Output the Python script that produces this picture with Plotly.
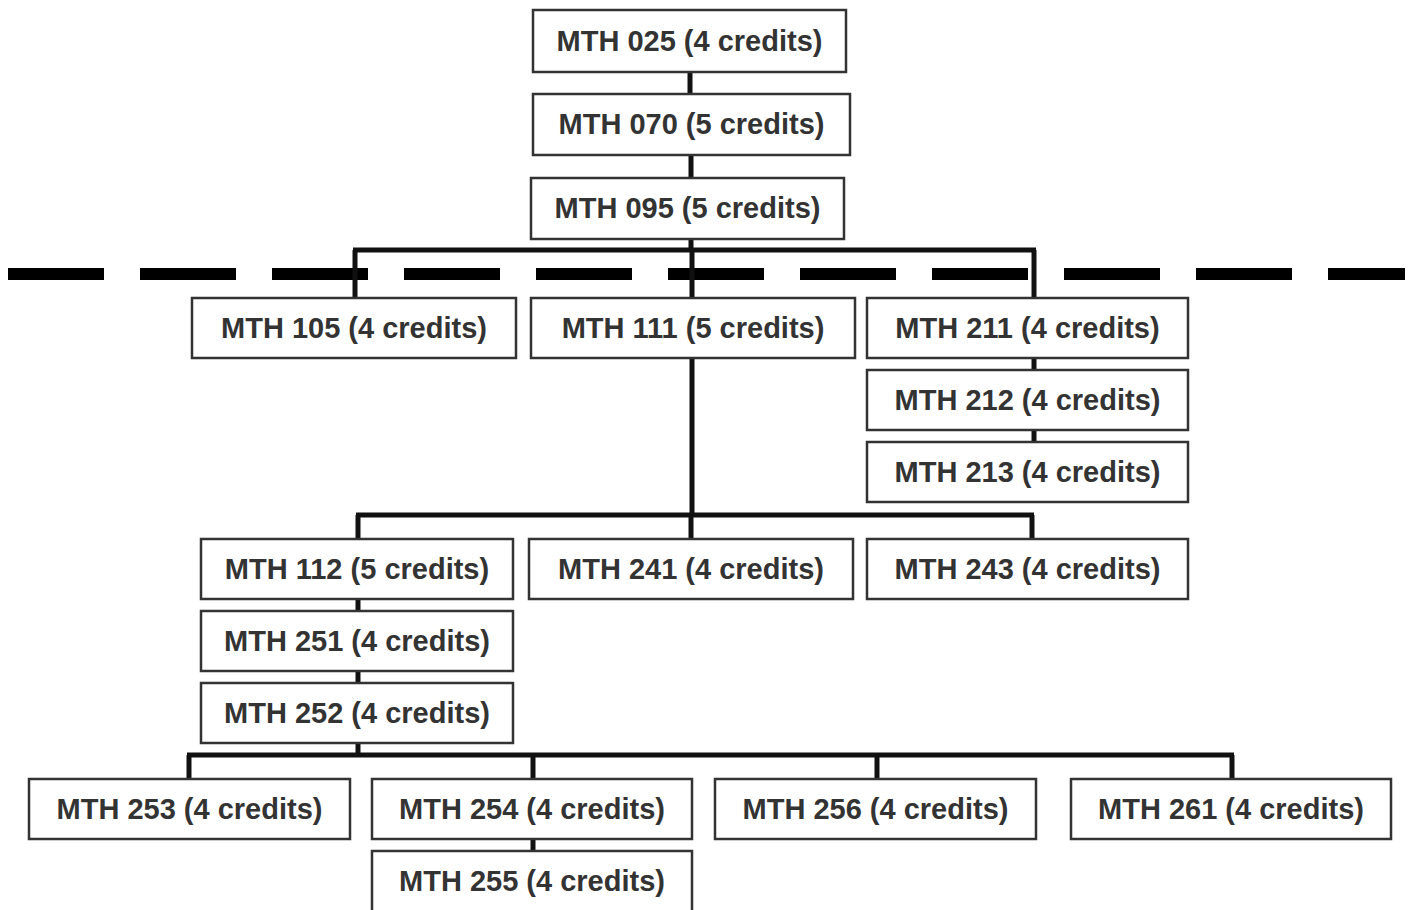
import plotly.graph_objects as go

# ---- data: courses, credits, prerequisite structure ----
codes = ["025", "070", "095", "105", "111", "211", "212", "213", "112",
         "241", "243", "251", "252", "253", "254", "256", "261", "255"]
credits = [4, 5, 5, 4, 5, 4, 4, 4, 5, 4, 4, 4, 4, 4, 4, 4, 4, 4]

# direct (stacked) prerequisites: parent -> child
direct_edges = [("025", "070"), ("070", "095"), ("211", "212"), ("212", "213"),
                ("112", "251"), ("251", "252"), ("254", "255")]
# branching prerequisites: parent -> children via a horizontal bus
bus_edges = [("095", ["105", "111", "211"]),
             ("111", ["112", "241", "243"]),
             ("252", ["253", "254", "256", "261"])]

# ---- layout geometry (pixel space of the 1409x910 canvas) ----
box = {  # x0, x1, y0, y1
    "025": (533, 846, 10, 72),
    "070": (533, 850, 94, 155),
    "095": (531, 844, 178, 239),
    "105": (192, 516, 298, 358),
    "111": (531, 855, 298, 358),
    "211": (867, 1188, 298, 358),
    "212": (867, 1188, 370, 430),
    "213": (867, 1188, 442, 502),
    "112": (201, 513, 539, 599),
    "241": (529, 853, 539, 599),
    "243": (867, 1188, 539, 599),
    "251": (201, 513, 611, 671),
    "252": (201, 513, 683, 743),
    "253": (29, 350, 779, 839),
    "254": (372, 692, 779, 839),
    "256": (715, 1036, 779, 839),
    "261": (1071, 1391, 779, 839),
    "255": (372, 692, 851, 912),
}
anchor = {"025": 689, "070": 690, "095": 691, "105": 355, "111": 692,
          "211": 1034, "212": 1034, "213": 1034, "112": 358, "241": 691,
          "243": 1032, "251": 358, "252": 358, "253": 189, "254": 533,
          "256": 877, "261": 1232, "255": 533}
bus_y = {"095": 250, "111": 515, "252": 755}
divider_y = 274

INK = "#111111"
BORDER = "#333333"
TEXT = "#333333"

shapes = []
# dashed divider
shapes.append(dict(type="line", xref="x", yref="y", x0=8, x1=1405,
                   y0=divider_y, y1=divider_y, layer="below",
                   line=dict(color="#000000", width=12, dash="96px,36px")))
# direct connectors
for p, c in direct_edges:
    shapes.append(dict(type="line", xref="x", yref="y", x0=anchor[c], x1=anchor[c],
                       y0=box[p][3], y1=box[c][2], layer="below",
                       line=dict(color=INK, width=5)))
# bus connectors
for p, children in bus_edges:
    by = bus_y[p]
    shapes.append(dict(type="line", xref="x", yref="y", x0=anchor[p], x1=anchor[p],
                       y0=box[p][3], y1=by, layer="below",
                       line=dict(color=INK, width=5)))
    xs = [anchor[c] for c in children]
    shapes.append(dict(type="line", xref="x", yref="y", x0=min(xs) - 2, x1=max(xs) + 2,
                       y0=by, y1=by, layer="below",
                       line=dict(color=INK, width=5)))
    for c in children:
        shapes.append(dict(type="line", xref="x", yref="y", x0=anchor[c], x1=anchor[c],
                           y0=by, y1=box[c][2], layer="below",
                           line=dict(color=INK, width=5)))
# boxes
for code in codes:
    x0, x1, y0, y1 = box[code]
    shapes.append(dict(type="rect", xref="x", yref="y", x0=x0, x1=x1, y0=y0, y1=y1,
                       layer="below", fillcolor="white",
                       line=dict(color=BORDER, width=2.5)))

labels = [f"MTH {c} ({n} credits)" for c, n in zip(codes, credits)]
cx = [(box[c][0] + box[c][1]) / 2 for c in codes]
cy = [(box[c][2] + box[c][3]) / 2 + 2.5 for c in codes]

fig = go.Figure(go.Scatter(
    x=cx, y=cy, text=labels, mode="text", hoverinfo="skip",
    textposition="middle center",
    textfont=dict(family="Liberation Sans, Arial, sans-serif", size=29,
                  color=TEXT, weight="bold"),
))
fig.update_layout(
    width=1409, height=910, margin=dict(l=0, r=0, t=0, b=0),
    paper_bgcolor="white", plot_bgcolor="white", showlegend=False,
    shapes=shapes,
    xaxis=dict(range=[0, 1409], visible=False, fixedrange=True),
    yaxis=dict(range=[910, 0], visible=False, fixedrange=True),
)
fig.write_html("out.html", config={"displayModeBar": False},
               post_script="document.body.style.margin='0';document.body.style.overflow='hidden';")
